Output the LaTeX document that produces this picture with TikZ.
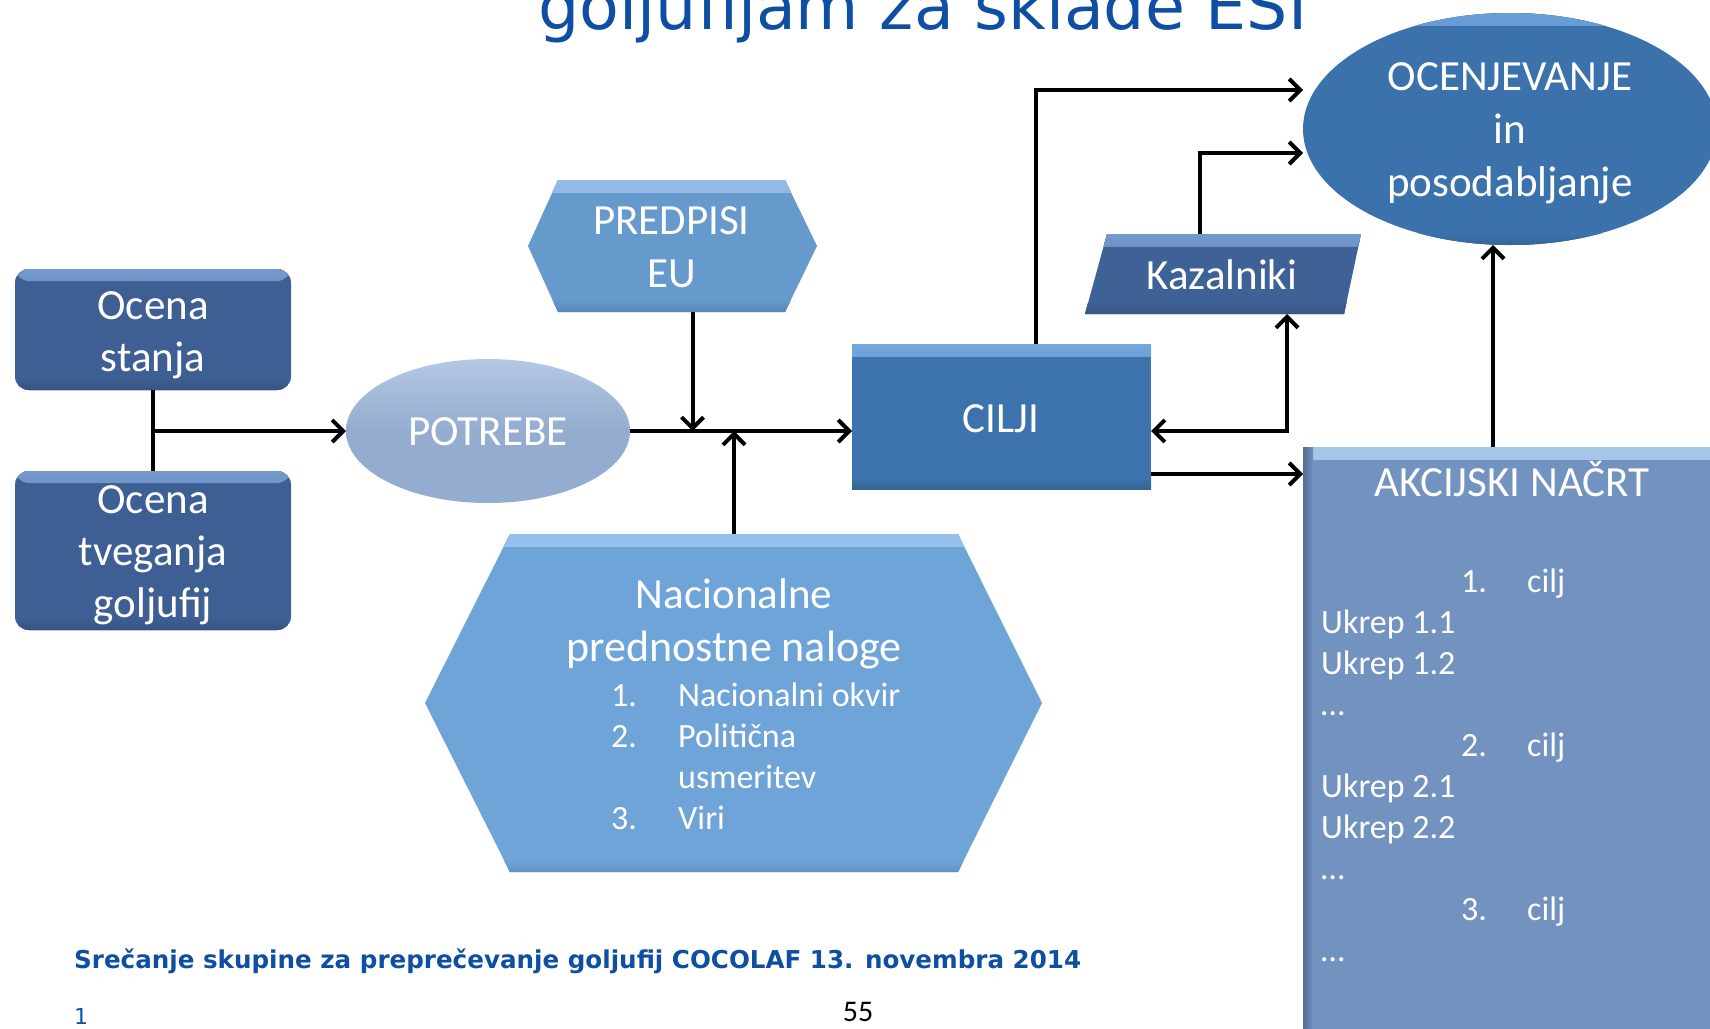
\documentclass[tikz,border=0pt]{standalone}
\usepackage{fontspec}
\setmainfont{Carlito}
\newfontfamily\verd{DejaVu Sans}
\usetikzlibrary{arrows.meta,shapes.geometric}
\definecolor{ttlblue}{HTML}{0E4FA3}
\definecolor{ocbase}{HTML}{3E5F93}\definecolor{oclight}{HTML}{86ADE0}
\definecolor{potbase}{HTML}{93ACD0}\definecolor{potlight}{HTML}{B4C8E4}
\definecolor{prebase}{HTML}{6699CC}\definecolor{prelight}{HTML}{A3C8EE}
\definecolor{nacbase}{HTML}{6FA4D8}\definecolor{naclight}{HTML}{A2CAF2}
\definecolor{cilbase}{HTML}{3D73AC}\definecolor{cillight}{HTML}{86B8EC}
\definecolor{kazbase}{HTML}{3E6196}\definecolor{kazlight}{HTML}{86AEE2}
\definecolor{ocnbase}{HTML}{3C72AB}\definecolor{ocnlight}{HTML}{78ACE4}
\definecolor{akcbase}{HTML}{7292C0}\definecolor{akclight}{HTML}{B8D8F8}
\tikzset{
  bev/.style 2 args={fill=#1, path picture={
    \fill[top color=#2!75!#1, bottom color=#1] (path picture bounding box.north west) rectangle ([yshift=-12pt]path picture bounding box.north east);
    \fill[top color=#1, bottom color=#1!88!black] ([yshift=12pt]path picture bounding box.south west) rectangle (path picture bounding box.south east);
  }},
  softbev/.style 2 args={top color=#2, bottom color=#1, middle color=#1},
  shp/.style={inner sep=0pt, outer sep=0pt},
  lab/.style={text=white, font=\fontsize{43}{52}\selectfont, anchor=base, inner sep=0pt},
  lst/.style={text=white, font=\fontsize{34}{41}\selectfont, anchor=base west, inner sep=0pt},
  ln/.style={line width=4pt, black},
  arr/.style={ln, -{Straight Barb[length=11pt,width=22pt]}},
  arrtwo/.style={ln, {Straight Barb[length=11pt,width=22pt]}-{Straight Barb[length=11pt,width=22pt]}},
}
\begin{document}
\begin{tikzpicture}[x=1pt,y=-1pt]
\useasboundingbox (0,0) rectangle (1710,1028);
\fill[white] (0,0) rectangle (1710,1028);
\clip (0,0) rectangle (1710,1028);

% title (cut at top)
\node[anchor=base, inner sep=0pt, text=ttlblue, font=\verd\fontsize{65}{70}\selectfont] (title) at (923,29) {goljufijam za sklade ESI};

% shapes
\node[shp, rounded corners=14pt, bev={ocbase}{oclight}, minimum width=276pt, minimum height=121pt] (ocs) at (153,329.5) {};
\node[shp, rounded corners=14pt, bev={ocbase}{oclight}, minimum width=276pt, minimum height=159pt] (oct) at (153,550.5) {};
\node[shp, ellipse, softbev={potbase}{potlight}, minimum width=284pt, minimum height=144pt] (potrebe) at (488,431) {};

\node[shp, minimum width=227pt, minimum height=132pt] (pred) at (671.5,246) {};
\path[bev={prebase}{prelight}] (pred.north west) -- (pred.north east) -- ++(32,66) -- (pred.south east) -- (pred.south west) -- ++(-30,-66) -- cycle;

\node[shp, minimum width=448pt, minimum height=338pt] (nac) at (734,703) {};
\path[bev={nacbase}{naclight}] (nac.north west) -- (nac.north east) -- ++(84,169) -- (nac.south east) -- (nac.south west) -- ++(-85,-169) -- cycle;

\node[shp, bev={cilbase}{cillight}, minimum width=299pt, minimum height=145pt] (cilji) at (1001.5,416.5) {};

\node[shp, minimum width=240pt, minimum height=80pt] (kaz) at (1223,274) {};
\path[bev={kazbase}{kazlight}] (1107,234) -- (1361,234) -- (1344,314) -- (1085,314) -- cycle;

\node[shp, ellipse, bev={ocnbase}{ocnlight}, minimum width=414pt, minimum height=232pt] (ocen) at (1510,129) {};

\node[shp, bev={akcbase}{akclight}, minimum width=437pt, minimum height=613pt] (akc) at (1521.5,753.5) {};
\fill[left color=akcbase!75!black, right color=akcbase] (akc.north west) rectangle ([xshift=10pt]akc.south west);

% texts
\node[lab] (t1) at (153,319) {Ocena};
\node[lab] (t2) at (153,371) {stanja};
\node[lab] (t3) at (153,513) {Ocena};
\node[lab] (t4) at (153,565) {tveganja};
\node[lab] (t5) at (153,617) {goljufij};
\node[lab] (t6) at (488,445) {POTREBE};
\node[lab] (t7) at (671.5,234) {PREDPISI};
\node[lab] (t8) at (671.5,287) {EU};
\node[lab] (t9) at (734,608) {Nacionalne};
\node[lab, font=\fontsize{44}{52}\selectfont] (t10) at (734,661) {prednostne naloge};
\node[lst] (n1) at (611,706) {1.};
\node[lst] (n1t) at (678,706) {Nacionalni okvir};
\node[lst] (n2) at (611,747) {2.};
\node[lst] (n2t) at (678,747) {Politična};
\node[lst] (n2u) at (678,788) {usmeritev};
\node[lst] (n3) at (611,829) {3.};
\node[lst] (n3t) at (678,829) {Viri};
\node[lab] (t11) at (1001,432) {CILJI};
\node[lab] (t12) at (1222,289) {Kazalniki};
\node[lab] (t13) at (1510,90) {OCENJEVANJE};
\node[lab] (t14) at (1510,143) {in};
\node[lab] (t15) at (1510,196) {posodabljanje};
\node[lab] (t16) at (1512,496) {AKCIJSKI NAČRT};
\node[lst] (a1) at (1461,592) {1.};
\node[lst] (a1c) at (1527,592) {cilj};
\node[lst] (a2) at (1321,633) {Ukrep 1.1};
\node[lst] (a3) at (1321,674) {Ukrep 1.2};
\node[lst] (a4) at (1321,715) {…};
\node[lst] (a5) at (1461,756) {2.};
\node[lst] (a5c) at (1527,756) {cilj};
\node[lst] (a6) at (1321,797) {Ukrep 2.1};
\node[lst] (a7) at (1321,838) {Ukrep 2.2};
\node[lst] (a8) at (1321,879) {…};
\node[lst] (a9) at (1461,920) {3.};
\node[lst] (a9c) at (1527,920) {cilj};
\node[lst] (a10) at (1321,961) {…};

% connectors
\draw[ln] (ocs.south) -- (oct.north);
\draw[arr] (ocs.south |- potrebe.west) -- (potrebe.west);
\draw[arr] (potrebe.east) -- (cilji.west |- potrebe.east);
\coordinate (pd) at ([xshift=21pt]pred.south);
\draw[arr] (pd) -- (pd |- potrebe.east);
\draw[arr] (nac.north) -- (nac.north |- potrebe.east);
\coordinate (cu) at ([xshift=34.5pt]cilji.north);
\coordinate (ou) at ([yshift=39pt]ocen.west);
\draw[arr] (cu) |- (ou);
\coordinate (ku) at ([xshift=-23pt]kaz.north);
\coordinate (om) at ([yshift=-24pt]ocen.west);
\draw[arr] (ku) |- (om);
\coordinate (kd) at ([xshift=64pt]kaz.south);
\draw[arrtwo] (kd) |- (cilji.east |- potrebe.east);
\coordinate (cl) at ([yshift=-57.5pt]cilji.east);
\draw[arr] (cl) -- (cl -| akc.west);
\coordinate (au) at ([xshift=-28.5pt]akc.north);
\draw[arr] (au) -- (au |- ocen.south);

% footer
\node[anchor=base west, inner sep=0pt, text=ttlblue, font=\verd\bfseries\fontsize{24.6}{28}\selectfont] (foot) at (74,968) {Srečanje skupine za preprečevanje goljufij COCOLAF 13. novembra 2014};
\node[anchor=base, inner sep=0pt, text=ttlblue, font=\verd\fontsize{22}{26}\selectfont] (pg) at (81,1024) {1};
\node[anchor=base, inner sep=0pt, text=black, font=\fontsize{30}{34}\selectfont] (num) at (858,1021) {55};
\end{tikzpicture}
\end{document}
